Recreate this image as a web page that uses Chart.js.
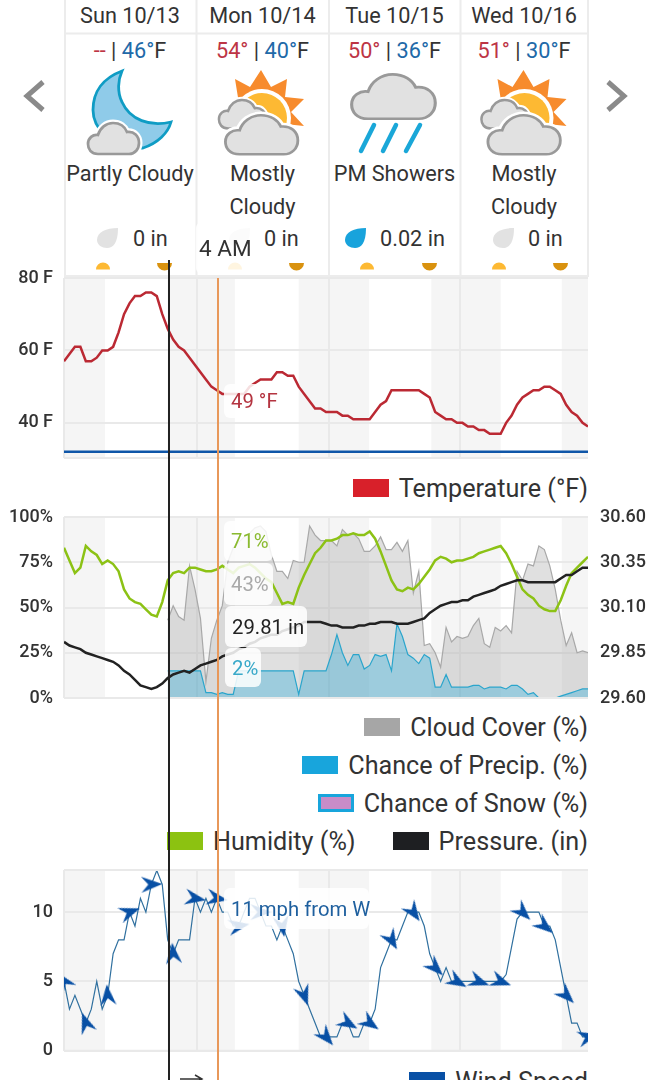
<!DOCTYPE html>
<html lang="en">
<head>
  <meta charset="UTF-8" />
  <title>Weather Forecast</title>
  <script src="https://cdn.jsdelivr.net/npm/chart.js"></script>
  <style>
    html, body { margin: 0; padding: 0; background: #fff; overflow: hidden; }
    #page { position: relative; width: 651px; height: 1080px; overflow: hidden; font-family: Roboto, sans-serif; color: #333; }
    #page canvas { position: absolute; left: 0; display: block; }
    #icons { position: absolute; left: 0; top: 0; }
    .day { position: absolute; text-align: center; font-size: 21.7px; top: 0; }
    .day .date { position: absolute; left: 0; right: 0; top: 2px; line-height: 28px; }
    .day .temps { position: absolute; left: 0; right: 0; top: 37px; line-height: 28px; }
    .day .cond { position: absolute; left: 0; right: 0; top: 157px; line-height: 33px; }
    .day .rain { position: absolute; top: 225px; line-height: 28px; white-space: nowrap; }
    .hi { color: #bd3545; }
    .lo { color: #2169a8; }
    .legend { position: absolute; right: 63px; display: flex; align-items: center; height: 30px; font-size: 25.2px; white-space: nowrap; }
    .legend i { display: inline-block; width: 36px; height: 18px; margin-right: 10px; box-sizing: border-box; }
    .legend span + i { margin-left: 37px; }
    .cursor { position: absolute; width: 2px; z-index: 5; }
    .box { position: absolute; background: rgba(255,255,255,.85); border-radius: 6px; z-index: 6; font-size: 20.3px; line-height: 24px; white-space: nowrap; }
    .box b { position: absolute; left: 7px; font-weight: 400; }
  </style>
</head>
<body>
  <div id="page">
    <svg id="icons" width="651" height="1080" viewBox="0 0 651 1080">
      <defs>
        <path id="cloud" d="M11 32C4 32 1 27 1 22C1 16 6 12 11 13C13 6 19 1 26 1C33 1 38 5 40 10C47 9 52 14 52 21C52 27 48 32 42 32Z" />
        <path id="drop" d="M21 0C9 0 0 4 0 12C0 17 5 20 10 20C16 20 21 15 21 0Z" />
        <g id="sunCloud">
          <polygon points="235,79 250,87 261,70 271,87 287,79 285,97 304,99 291,112 304,126 285,124 262,130 240,110" fill="#f78b2d" />
          <circle cx="262" cy="118" r="29" fill="#fff" />
          <circle cx="262" cy="118" r="25" fill="#fdb933" />
          <use href="#cloud" transform="translate(218,99) scale(.92,.92)" fill="#e1e1e1" stroke="#fff" stroke-width="7" />
          <use href="#cloud" transform="translate(218,99) scale(.92,.92)" fill="#e1e1e1" stroke="#999" stroke-width="2.7" />
          <use href="#cloud" transform="translate(224,114) scale(1.42,1.26)" fill="#fff" stroke="#fff" stroke-width="6" />
          <use href="#cloud" transform="translate(224,114) scale(1.42,1.26)" fill="#e1e1e1" stroke="#999" stroke-width="2" />
        </g>
      </defs>
      <g fill="none" stroke="#ececec" stroke-width="2">
        <path d="M65 0V277M196.500 0V277M329 0V277M460.500 0V277M588 0V277M64 33.500H589M64 276H589" />
      </g>
      <path d="M43 82L27 96L43 110M608 82L624 96L608 110" fill="none" stroke="#8a8a8a" stroke-width="5" />
      <path d="M122 71C103 78 93 92 93 110C93 128 110 148 143 148C158 143 168 133 171 122C150 127 130 120 122 102C117 92 118 80 122 71Z" fill="#8fcbe9" stroke="#0f9cc4" stroke-width="2.800" />
      <use href="#cloud" transform="translate(87,122)" fill="#fff" stroke="#fff" stroke-width="7" />
      <use href="#cloud" transform="translate(87,122)" fill="#e1e1e1" stroke="#999" stroke-width="2.700" />
      <use href="#sunCloud" />
      <use href="#sunCloud" transform="translate(262.500,0)" />
      <use href="#cloud" transform="translate(350,73) scale(1.64,1.43)" fill="#e1e1e1" stroke="#999" stroke-width="1.900" />
      <path d="M374 125L361 151M396 125L383 151M420 125L406 151" stroke="#1aa7d8" stroke-width="4.500" stroke-linecap="round" />
      <use href="#drop" transform="translate(97,228)" fill="#e2e2e2" />
      <use href="#drop" transform="translate(229,228)" fill="#e2e2e2" />
      <use href="#drop" transform="translate(345,228)" fill="#18a3dc" />
      <use href="#drop" transform="translate(493,228)" fill="#e2e2e2" />
      <path d="M96 269.500A7 7 0 0 1 110 269.500ZM228 269.500A7 7 0 0 1 242 269.500ZM360 269.500A7 7 0 0 1 374 269.500ZM492 269.500A7 7 0 0 1 506 269.500Z" fill="#fdb933" />
      <path d="M157 263A7 7 0 0 0 172 263ZM289 263A7 7 0 0 0 304 263ZM422 263A7 7 0 0 0 437 263ZM553 263A7 7 0 0 0 568 263Z" fill="#d9920f" />
      <path d="M180 1079H202M195 1075L202 1079L195 1083" fill="none" stroke="#333" stroke-width="1.500" />
    </svg>
    <canvas id="tempChart" width="651" height="201" style="top:267px"></canvas>
    <canvas id="skyChart" width="651" height="202" style="top:506px"></canvas>
    <canvas id="windChart" width="651" height="202" style="top:859px"></canvas>
  </div>

  <script>
    const days = ["Sun 10/13", "Mon 10/14", "Tue 10/15", "Wed 10/16"];
    const highs = ["--", "54°", "50°", "51°"];
    const lows = ["46°", "40°", "36°", "30°"];
    const conditions = ["Partly Cloudy", "Mostly<br>Cloudy", "PM Showers", "Mostly<br>Cloudy"];
    const rainfall = ["0 in", "0 in", "0.02 in", "0 in"];
    const hoverTime = "4 AM";

    // sample index along the x axis, one per hour
    const hours = [0,1,2,3,4,5,6,7,8,9,10,11,12,13,14,15,16,17,18,19,20,21,22,23,24,25,26,27,28,29,30,31,32,33,34,35,36,37,38,39,40,41,42,43,44,45,46,47,48,49,50,51,52,53,54,55,56,57,58,59,60,61,62,63,64,65,66,67,68,69,70,71,72,73,74,75,76,77,78,79,80,81,82,83,84,85,86,87,88,89,90,91,92,93,94,95,96];
    const dayTicks = [0, 24.3, 48.55, 72.55];
    const nightStart = [0, 19, 43, 67.3, 91.2];
    const nightEnd = [7.5, 31.3, 55.9, 80, 96];
    const cursorHour = 19.2;
    const hoverHour = 28;

    const tempTicks = [40, 60, 80];
    const percentTicks = [0, 25, 50, 75, 100];
    const pressureTicks = [29.6, 29.85, 30.1, 30.35, 30.6];
    const windTicks = [0, 5, 10];
    const freezing = 32;

    const temperature = [57,59,61,61,57,57,58,60,60,61,65,70,73,75,75,76,76,75,70,66,63,61,60,58,56,54,52,50,49,48,48,48,48,48,50,51,52,52,52,54,54,53,53,50,48,46,44,44,43,43,43,42,42,41,41,41,41,43,45,46,49,49,49,49,49,49,48,47,43,42,41,41,40,40,39,39,38,38,37,37,37,40,42,45,47,48,49,49,50,50,49,48,45,43,42,40,39];
    const humidity = [83,76,69,72,84,81,79,74,76,74,70,60,55,53,52,49,46,45,53,65,69,70,69,72,72,71,70,70,71,73,71,69,72,73,74,72,69,66,64,58,52,53,52,61,68,74,80,83,87,87,88,90,90,91,90,90,92,88,81,73,65,60,59,61,60,63,67,71,76,78,77,75,76,76,77,78,80,81,82,83,84,80,74,67,60,57,55,51,49,48,48,54,62,69,72,75,78];
    const pressure = [29.91,29.89,29.88,29.87,29.85,29.84,29.83,29.82,29.81,29.80,29.78,29.75,29.73,29.70,29.67,29.66,29.65,29.66,29.68,29.71,29.73,29.74,29.75,29.74,29.76,29.78,29.79,29.80,29.81,29.83,29.84,29.85,29.87,29.88,29.90,29.91,29.93,29.94,29.95,29.95,29.97,29.98,29.99,30.00,30.02,30.02,30.02,30.02,30.01,30.00,30.00,29.99,29.99,29.99,30.00,30.00,30.01,30.01,30.02,30.02,30.02,30.01,30.01,30.01,30.02,30.03,30.04,30.07,30.09,30.11,30.12,30.13,30.13,30.14,30.14,30.16,30.17,30.18,30.19,30.20,30.22,30.23,30.24,30.25,30.25,30.24,30.24,30.24,30.24,30.24,30.24,30.26,30.28,30.28,30.30,30.32,30.32];
    const cloudCover = [null,null,null,null,null,null,null,null,null,null,null,null,null,null,null,null,null,null,null,43,51,45,43,73,60,44,9,33,43,51,75,83,86,89,91,94,95,92,79,70,70,66,76,75,75,95,90,87,87,87,84,93,90,91,88,81,81,84,89,82,82,86,81,87,58,70,29,30,25,17,39,31,34,33,34,40,44,30,28,39,37,40,36,70,65,74,73,84,82,73,60,43,29,36,25,26,25];
    const precipChance = [null,null,null,null,null,null,null,null,null,null,null,null,null,null,null,null,null,null,null,15,15,15,15,15,15,15,3,3,2,3,2,2,15,15,15,15,15,15,15,15,15,15,15,2,15,15,15,15,15,24,35,25,18,24,24,16,18,24,23,24,15,41,34,24,22,19,24,22,6,6,13,6,6,6,6,7,7,5,6,6,6,5,7,7,5,2,3,0,0,0,0,1,2,3,4,5,5];
    const windSpeed = [5,3,4,3,2,3,5,3,4,7,8,8,10,9,11,10,12,13,12,8,7,8,8,8,11,10,11,10,11,10,10,9,9,10,11,11,10,9,9,8,9,8,7,5,4,3,2,1,1,1,1,2,2,1,1,2,2,3,6,7,8,8,9,10,10,10,9,7,6,5,6,5,5,5,5,5,5,5,5,5,5,5.5,7.5,9.5,10,10,10,10,9,9,8,6,4,2,2,1,1];
    // one arrow every 4 hours, degrees clockwise from north
    const windHeading = [-35,-20,-5,70,88,-5,100,100,80,90,170,160,140,120,125,150,145,135,120,110,110,135,130,135,75];

    const tickFont = { family: "Roboto", size: 18, weight: "500" };
    const tickColor = "#333";
    const gridColor = "#e9e9e9";

    const nightBands = {
      id: "nightBands",
      beforeDraw(chart) {
        const { ctx, chartArea: a, scales: { x } } = chart;
        ctx.save();
        ctx.fillStyle = "#f5f5f5";
        nightStart.forEach((s, i) => {
          const left = x.getPixelForValue(s);
          ctx.fillRect(left, a.top, x.getPixelForValue(nightEnd[i]) - left, a.bottom - a.top);
        });
        ctx.restore();
      },
      afterDraw(chart) {
        const { ctx, chartArea: a } = chart;
        ctx.save();
        ctx.strokeStyle = gridColor;
        ctx.lineWidth = 2;
        ctx.beginPath();
        ctx.moveTo(a.left, a.top);
        ctx.lineTo(a.right, a.top);
        ctx.moveTo(a.left, a.bottom);
        ctx.lineTo(a.right, a.bottom);
        ctx.stroke();
        ctx.restore();
      }
    };

    function xAxis() {
      return {
        type: "linear", min: 0, max: 96,
        grid: { color: gridColor, lineWidth: 2, drawTicks: false },
        border: { display: false },
        ticks: { display: false },
        afterBuildTicks: s => { s.ticks = dayTicks.map(v => ({ value: v })); },
        afterFit: s => { s.height = 0; s.paddingLeft = 0; s.paddingRight = 0; }
      };
    }

    function yAxis(min, max, tickValues, label, side, width) {
      return {
        position: side, min: min, max: max,
        grid: { color: gridColor, lineWidth: 2, drawTicks: false, drawOnChartArea: side === "left" },
        border: { display: false },
        ticks: { font: tickFont, color: tickColor, padding: side === "left" ? 11 : 12, autoSkip: false, callback: label },
        afterBuildTicks: s => { s.ticks = tickValues.map(v => ({ value: v })); },
        afterFit: s => { s.width = width; s.paddingTop = 0; s.paddingBottom = 0; }
      };
    }

    function baseOptions(scales, rightPad) {
      return {
        responsive: false,
        animation: false,
        layout: { padding: { top: 11, bottom: 10, left: 0, right: rightPad } },
        plugins: { legend: { display: false }, tooltip: { enabled: false } },
        scales: scales
      };
    }

    const tempChart = new Chart(document.getElementById("tempChart"), {
      type: "line",
      data: {
        labels: hours,
        datasets: [
          { label: "Temperature (°F)", data: temperature, borderColor: "#bb2933", borderWidth: 2.5, pointRadius: 0, tension: 0 },
          { label: "Freezing", data: hours.map(() => freezing), borderColor: "#0f56a8", borderWidth: 2.5, pointRadius: 0 }
        ]
      },
      options: baseOptions({ x: xAxis(), y: yAxis(30.3, 80, tempTicks, v => v + " F", "left", 64) }, 63),
      plugins: [nightBands]
    });

    new Chart(document.getElementById("skyChart"), {
      type: "line",
      data: {
        labels: hours,
        datasets: [
          { label: "Cloud Cover (%)", data: cloudCover, borderColor: "#a8a8a8", backgroundColor: "rgba(160,160,160,.32)", borderWidth: 1.2, fill: "origin", pointRadius: 0, order: 4 },
          { label: "Chance of Precip. (%)", data: precipChance, borderColor: "#2aa5cc", backgroundColor: "rgba(40,170,215,.36)", borderWidth: 1.2, fill: "origin", pointRadius: 0, order: 3 },
          { label: "Humidity (%)", data: humidity, borderColor: "#8cc215", borderWidth: 2.5, pointRadius: 0, order: 2 },
          { label: "Pressure. (in)", data: pressure, yAxisID: "y2", borderColor: "#222", borderWidth: 2.5, pointRadius: 0, order: 1 }
        ]
      },
      options: baseOptions({
        x: xAxis(),
        y: yAxis(0, 100, percentTicks, v => v + "%", "left", 64),
        y2: yAxis(29.6, 30.6, pressureTicks, v => v.toFixed(2), "right", 63)
      }, 0),
      plugins: [nightBands]
    });

    // arrow sprite used as the point style of the wind line
    const arrow = document.createElement("canvas");
    arrow.width = 22;
    arrow.height = 22;
    const actx = arrow.getContext("2d");
    actx.fillStyle = "#0850a5";
    actx.beginPath();
    actx.moveTo(11, 0);
    actx.lineTo(19, 21);
    actx.lineTo(11, 14);
    actx.lineTo(3, 21);
    actx.closePath();
    actx.fill();

    new Chart(document.getElementById("windChart"), {
      type: "line",
      data: {
        labels: hours,
        datasets: [{
          label: "Wind Speed",
          data: windSpeed,
          borderColor: "#30709f",
          borderWidth: 1.2,
          pointStyle: arrow,
          pointRadius: c => (c.dataIndex % 4 === 0 ? 9 : 0),
          pointRotation: c => windHeading[c.dataIndex / 4] || 0
        }]
      },
      options: baseOptions({ x: xAxis(), y: yAxis(0, 13.04, windTicks, v => String(v), "left", 64) }, 63),
      plugins: [nightBands]
    });

    const page = document.getElementById("page");

    // day cards
    const dayLeft = [64, 196, 329, 460];
    const dayWidth = [132, 133, 131, 128];
    const rainLeft = [133, 264, 380, 528];
    days.forEach((d, i) => {
      const el = document.createElement("div");
      el.className = "day";
      el.style.left = dayLeft[i] + "px";
      el.style.width = dayWidth[i] + "px";
      el.innerHTML = '<div class="date">' + d + '</div>' +
        '<div class="temps"><span class="hi">' + highs[i] + '</span> | <span class="lo">' + lows[i] + '</span>F</div>' +
        '<div class="cond">' + conditions[i] + '</div>' +
        '<div class="rain" style="left:' + (rainLeft[i] - dayLeft[i]) + 'px">' + rainfall[i] + '</div>';
      page.appendChild(el);
    });

    // legends
    function addLegend(top, items) {
      const el = document.createElement("div");
      el.className = "legend";
      el.style.top = top + "px";
      el.innerHTML = items.map(it =>
        '<i style="background:' + it[1] + (it[2] ? ';border:3px solid ' + it[2] : '') + '"></i><span>' + it[0] + '</span>'
      ).join("");
      page.appendChild(el);
    }
    addLegend(473, [["Temperature (°F)", "#d8202a"]]);
    addLegend(712, [["Cloud Cover (%)", "#a6a6a6"]]);
    addLegend(750, [["Chance of Precip. (%)", "#18a5dc"]]);
    addLegend(788, [["Chance of Snow (%)", "#c88cc8", "#18a5dc"]]);
    addLegend(826, [["Humidity (%)", "#8cc211"], ["Pressure. (in)", "#1e1f22"]]);
    addLegend(1066, [["Wind Speed", "#0850a5"]]);

    // cursor lines follow the x scale
    const xScale = tempChart.scales.x;
    function addCursor(hour, top, color) {
      const el = document.createElement("div");
      el.className = "cursor";
      el.style.left = (xScale.getPixelForValue(hour) - 1) + "px";
      el.style.top = top + "px";
      el.style.height = (1080 - top) + "px";
      el.style.background = color;
      page.appendChild(el);
    }
    addCursor(cursorHour, 260, "#222");
    addCursor(hoverHour + 0.2, 278, "#e8985a");

    // hover value boxes
    function addBox(text, color, left, top, width, height, size, inset) {
      const el = document.createElement("div");
      el.className = "box";
      el.style.cssText = "left:" + left + "px;top:" + top + "px;width:" + width + "px;height:" + height + "px;color:" + color + ";" + (size ? "font-size:" + size + "px;" : "");
      el.innerHTML = '<b style="top:' + ((height - 24) / 2) + 'px;' + (inset ? 'left:' + inset + 'px' : '') + '">' + text + '</b>';
      page.appendChild(el);
    }
    addBox(hoverTime, "#333", 196, 222, 60, 52, 22.5, 3);
    addBox(temperature[hoverHour] + " °F", "#b43440", 224, 384, 58, 34);
    addBox(humidity[hoverHour] + "%", "#8aba2f", 224, 521, 49, 40);
    addBox(cloudCover[hoverHour] + "%", "#a9a9a9", 224, 563, 49, 42);
    addBox(pressure[hoverHour].toFixed(2) + " in", "#222", 225, 606, 82, 41);
    addBox(precipChance[hoverHour] + "%", "#3aa9c9", 225, 648, 36, 39);
    addBox(windSpeed[hoverHour] + " mph from W", "#1e5f9e", 224, 888, 145, 41);
  </script>
</body>
</html>
